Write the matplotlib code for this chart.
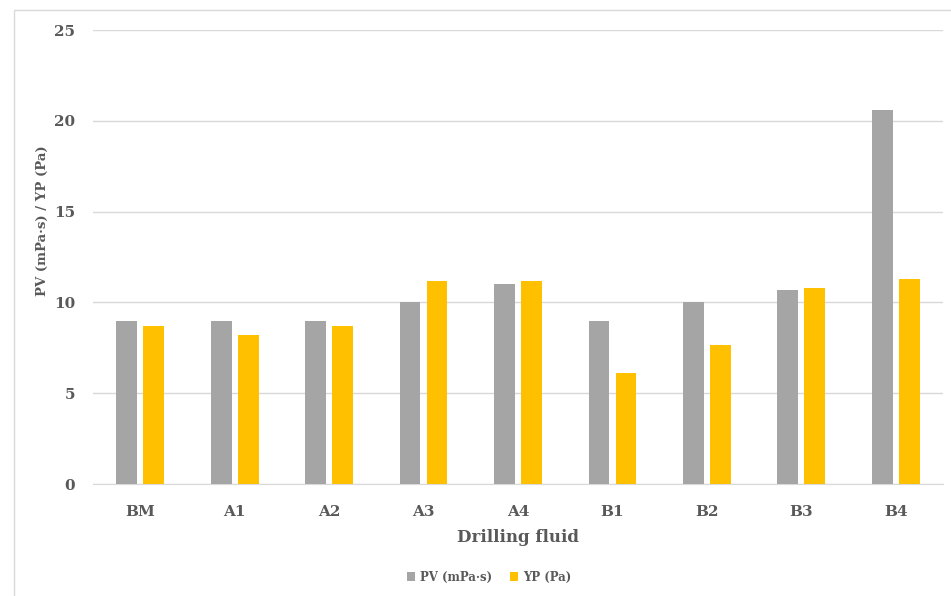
import matplotlib.pyplot as plt
import numpy as np
from matplotlib.patches import Rectangle

# Data
fluids = ['BM', 'A1', 'A2', 'A3', 'A4', 'B1', 'B2', 'B3', 'B4']
pv = [9.0, 9.0, 9.0, 10.0, 11.0, 9.0, 10.0, 10.7, 20.6]
yp = [8.7, 8.2, 8.7, 11.2, 11.2, 6.1, 7.65, 10.8, 11.3]

grey = '#a5a5a5'
gold = '#ffc000'
txt = '#595959'

plt.rcParams.update({'font.family': 'DejaVu Serif', 'font.weight': 'bold'})

fig = plt.figure(figsize=(9.51, 5.96), dpi=100)
ax = fig.add_axes([93/951, 112/596, 850/951, 454/596])

x = np.arange(len(fluids))
w = 0.22
off = 0.143
ax.bar(x - off, pv, w, color=grey, label='PV (mPa·s)', zorder=3)
ax.bar(x + off, yp, w, color=gold, label='YP (Pa)', zorder=3)

ax.set_xlim(-0.5, len(fluids) - 0.5)
ax.set_ylim(0, 25)
ax.set_yticks([0, 5, 10, 15, 20, 25])
ax.set_xticks(x)
ax.set_xticklabels(fluids)
ax.yaxis.grid(True, color='#d9d9d9', lw=1)
ax.set_axisbelow(True)
for s in ['top', 'right', 'left']:
    ax.spines[s].set_visible(False)
ax.spines['bottom'].set_color('#d9d9d9')
ax.tick_params(length=0, colors=txt, labelsize=11)
ax.tick_params(axis='y', pad=13)
ax.tick_params(axis='x', pad=15)

ax.set_xlabel('Drilling fluid', fontsize=12, color=txt, fontweight='bold', labelpad=7)
ax.set_ylabel('PV (mPa·s) / YP (Pa)', fontsize=9.5, color=txt, fontweight='bold')
ax.yaxis.set_label_coords(-44/850, 0.58)

fig.legend(loc='center', bbox_to_anchor=(489/951, 1 - 577/596), ncol=2,
           frameon=False, fontsize=8.5, labelcolor=txt,
           handlelength=0.7, handleheight=0.7, columnspacing=1.5, handletextpad=0.4)

# light frame around the chart
fig.patches.append(Rectangle((14/951, -0.01), 1.0, 1 - 10/596 + 0.01, transform=fig.transFigure,
                             fill=False, edgecolor='#d9d9d9', lw=1))

fig.savefig('out.png', dpi=100)
